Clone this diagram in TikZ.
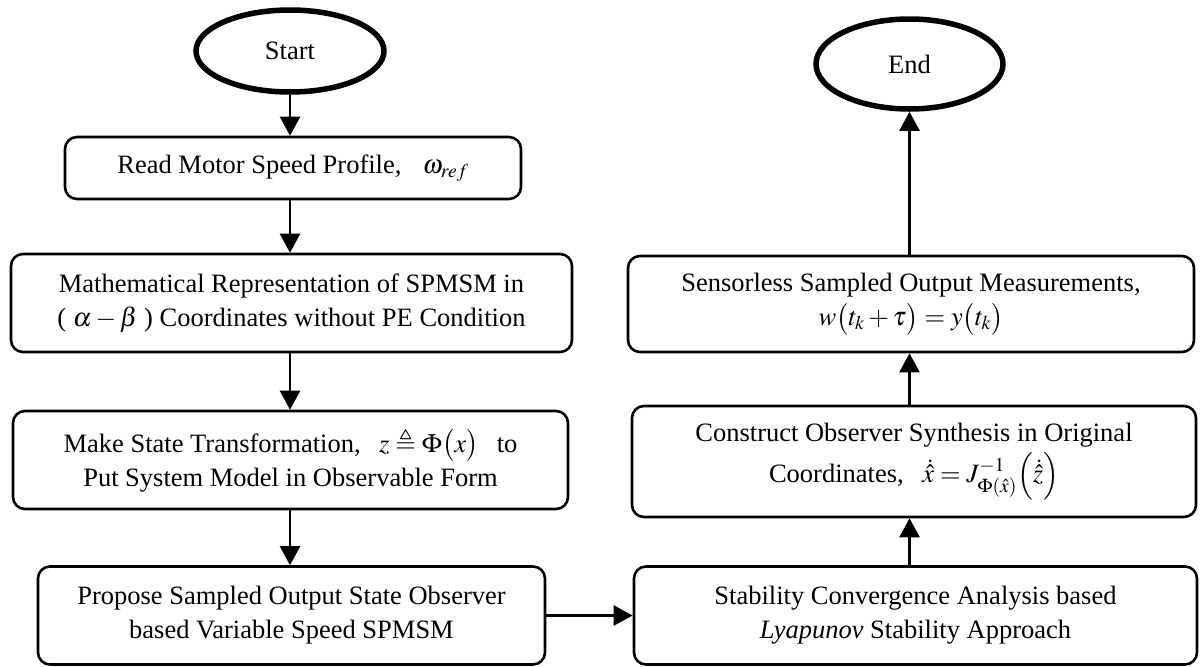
\documentclass[tikz,border=0pt]{standalone}
\usepackage{amsmath,amssymb}
\usepackage{mathptmx}
\usepackage{fontspec}
\setmainfont{Liberation Serif}
\usetikzlibrary{shapes.geometric,arrows.meta}
\tikzset{
  terminal/.style={draw, ellipse, line width=5.5pt, inner sep=0pt, font=\fontsize{26.5}{35}\selectfont},
  procbox/.style={draw, rectangle, rounded corners=12pt, line width=2.6pt, align=center, inner sep=0pt,
                  font=\fontsize{26.5}{34}\selectfont},
  arr/.style={line width=2.4pt, -{Triangle[length=19pt,width=20pt]}}
}
\begin{document}
\begin{tikzpicture}[x=1pt,y=-1pt]
\useasboundingbox (0,0) rectangle (1203,667);
% left column
\node[terminal, minimum width=188pt, minimum height=82pt] (start) at (290,51) {Start};
\node[procbox, minimum width=456pt, minimum height=62pt] (b1) at (293,168)
  {Read Motor Speed Profile,\hspace{0.8em}$\omega_{ref}$};
\node[procbox, minimum width=561pt, minimum height=98pt] (b2) at (291.5,303)
  {Mathematical Representation of SPMSM in\\ ( $\alpha-\beta$ ) Coordinates without PE Condition};
\node[procbox, minimum width=555pt, minimum height=98pt] (b3) at (290.5,460)
  {Make State Transformation,\hspace{0.7em}$z\triangleq\Phi\bigl(x\bigr)$\hspace{0.7em}to\\ Put System Model in Observable Form};
\node[procbox, minimum width=507pt, minimum height=98pt] (b4) at (291.5,615.5)
  {Propose Sampled Output State Observer\\ based Variable Speed SPMSM};
% right column
\node[terminal, minimum width=187pt, minimum height=90pt] (end) at (909.5,64) {End};
\node[procbox, minimum width=566pt, minimum height=96pt] (b6) at (911,304)
  {Sensorless Sampled Output Measurements,\\ $w\bigl(t_k+\tau\bigr)=y\bigl(t_k\bigr)$};
\node[procbox, minimum width=564pt, minimum height=111pt] (b7) at (914,461.5)
  {Construct Observer Synthesis in Original\\[4pt] Coordinates,\hspace{0.7em}$\dot{\hat{x}}=J^{-1}_{\Phi(\hat{x})}\Bigl(\dot{\hat{z}}\Bigr)$};
\node[procbox, minimum width=563pt, minimum height=98pt] (b8) at (915.5,615.5)
  {Stability Convergence Analysis based\\ \textit{Lyapunov} Stability Approach};
% connectors
\draw[arr] (start.south) -- (start.south |- b1.north);
\draw[arr] (b1.south -| start.south) -- (b2.north -| start.south);
\draw[arr] (b2.south -| start.south) -- (b3.north -| start.south);
\draw[arr] (b3.south -| start.south) -- (b4.north -| start.south);
\draw[arr] (b4.east) -- (b8.west |- b4.east);
\draw[arr] (b8.north -| end.south) -- (b7.south -| end.south);
\draw[arr] (b7.north -| end.south) -- (b6.south -| end.south);
\draw[arr] (b6.north -| end.south) -- (end.south);
\end{tikzpicture}
\end{document}
